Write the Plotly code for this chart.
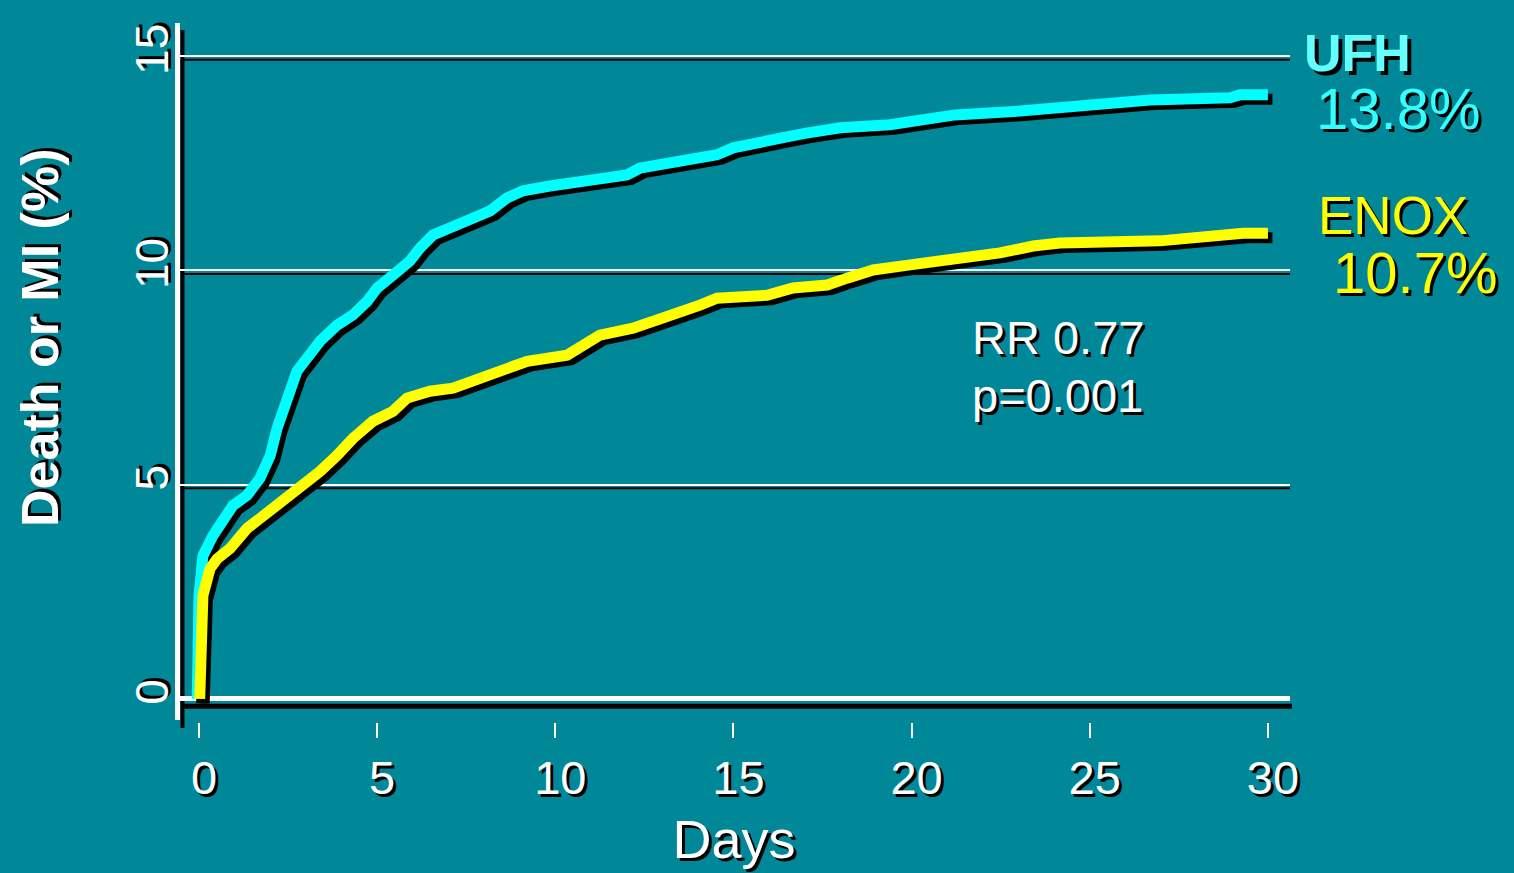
import plotly.graph_objects as go

# ---- data ----
ufh_days = [-0.05, 0.0, 0.11, 0.39, 0.95, 1.35, 1.71, 2.0, 2.19, 2.47, 2.75, 3.03, 3.4, 3.87,
            4.32, 4.72, 5.0, 5.44, 5.92, 6.2, 6.57, 7.52, 8.17, 8.64, 9.09, 9.85, 10.61, 11.25,
            12.01, 12.38, 13.13, 13.78, 14.54, 14.99, 15.55, 16.39, 17.0, 18.0, 19.39, 20.24,
            21.22, 23.04, 24.02, 25.29, 26.69, 28.94, 29.22, 30.0]
ufh_pct = [0.0, 2.4, 3.34, 3.81, 4.51, 4.75, 5.15, 5.68, 6.31, 7.09, 7.65, 7.95, 8.35, 8.72,
           8.96, 9.28, 9.59, 9.89, 10.22, 10.52, 10.83, 11.16, 11.39, 11.69, 11.86, 11.97, 12.04, 12.11,
           12.23, 12.39, 12.51, 12.63, 12.7, 12.86, 12.93, 13.1, 13.2, 13.33, 13.4, 13.5,
           13.63, 13.72, 13.8, 13.89, 13.98, 14.03, 14.1, 14.1]

enox_days = [0.02, 0.05, 0.11, 0.31, 0.51, 0.87, 1.35, 1.71, 2.08, 2.55, 3.03, 3.4, 3.87, 4.32,
             4.88, 5.44, 5.84, 6.48, 7.13, 7.97, 9.21, 10.33, 10.89, 11.25, 12.18, 13.13, 14.06,
             14.54, 15.94, 16.67, 17.63, 18.19, 18.92, 19.96, 21.08, 22.48, 23.41, 24.16, 26.97,
             28.1, 29.3, 30.0]
enox_pct = [0.0, 1.64, 2.41, 3.04, 3.27, 3.51, 3.98, 4.21, 4.44, 4.75, 5.07, 5.31, 5.68, 6.08,
            6.48, 6.71, 7.02, 7.18, 7.25, 7.48, 7.88, 8.02, 8.35, 8.49, 8.65, 8.89, 9.19,
            9.35, 9.42, 9.59, 9.66, 9.82, 10.01, 10.13, 10.24, 10.41, 10.57, 10.64, 10.69,
            10.8, 10.87, 10.87]

x_ticks = [0, 5, 10, 15, 20, 25, 30]
y_ticks = [0, 5, 10, 15]

series_names = ["UFH", "ENOX"]
final_labels = ["13.8%", "10.7%"]
stats_text = ["RR 0.77", "p=0.001"]
x_title = "Days"
y_title = "Death or MI (%)"

# ---- styling ----
BG = "rgb(0,136,153)"
CYAN = "#00FFFF"
YELLOW = "#FFFF00"
FONT = "Liberation Sans, Arial, sans-serif"
SHADOW = "3px 3px 0px black"

W, H = 1514, 873
L, R, T, B = 178, 224, 20, 151
XR = [-0.589, 30.62]
YR = [-0.54, 15.845]
plot_w = W - L - R
plot_h = H - T - B
dx = 4.5 * (XR[1] - XR[0]) / plot_w   # shadow offset in data units
dy = 4.5 * (YR[1] - YR[0]) / plot_h


def px_x(p):
    return (p - L) / plot_w


def px_y(p):
    return (H - B - p) / plot_h


fig = go.Figure()

for days, pct, col, name in [(ufh_days, ufh_pct, CYAN, series_names[0]),
                             (enox_days, enox_pct, YELLOW, series_names[1])]:
    fig.add_trace(go.Scatter(x=[d + dx for d in days], y=[v - dy for v in pct], mode="lines",
                             line=dict(color="black", width=11), hoverinfo="skip", showlegend=False))
    fig.add_trace(go.Scatter(x=days, y=pct, mode="lines", name=name,
                             line=dict(color=col, width=11), showlegend=False))

shapes = []
# gridline shadows
for yt in y_ticks[1:]:
    shapes.append(dict(type="line", xref="paper", yref="y", x0=px_x(183), x1=1.0,
                       y0=yt - 0.085, y1=yt - 0.085, line=dict(color="black", width=2), layer="below"))
# zero line shadow
shapes.append(dict(type="line", xref="paper", yref="y", x0=px_x(183), x1=px_x(1292),
                   y0=-0.17, y1=-0.17, line=dict(color="black", width=5), layer="below"))
# left axis: white line + black shadow
shapes.append(dict(type="line", xref="paper", yref="paper", x0=px_x(182.5), x1=px_x(182.5),
                   y0=px_y(728), y1=px_y(30), line=dict(color="black", width=4), layer="below"))
shapes.append(dict(type="line", xref="paper", yref="paper", x0=px_x(177.5), x1=px_x(177.5),
                   y0=px_y(720), y1=px_y(23), line=dict(color="white", width=5), layer="below"))

annotations = [
    dict(text="<b>" + series_names[0] + "</b>", x=px_x(1302), y=px_y(53), xanchor="left", yanchor="middle",
         font=dict(size=52, color="#66FFFF", family=FONT, shadow="4px 4px 0px black")),
    dict(text=final_labels[0], x=px_x(1314), y=px_y(108), xanchor="left", yanchor="middle",
         font=dict(size=58, color="#33FFFF", family=FONT, shadow=SHADOW)),
    dict(text=series_names[1], x=px_x(1316), y=px_y(215), xanchor="left", yanchor="middle",
         font=dict(size=53, color=YELLOW, family=FONT, shadow=SHADOW)),
    dict(text=final_labels[1], x=px_x(1331), y=px_y(272), xanchor="left", yanchor="middle",
         font=dict(size=58, color=YELLOW, family=FONT, shadow=SHADOW)),
    dict(text=stats_text[0], x=px_x(970), y=px_y(338), xanchor="left", yanchor="middle",
         font=dict(size=47, color="white", family=FONT, shadow=SHADOW)),
    dict(text=stats_text[1], x=px_x(970), y=px_y(395), xanchor="left", yanchor="middle",
         font=dict(size=47, color="white", family=FONT, shadow=SHADOW)),
    dict(text="<b>" + y_title + "</b>", x=px_x(40), y=px_y(338), xanchor="center", yanchor="middle",
         textangle=-90,
         font=dict(size=52, color="white", family=FONT, shadow=SHADOW)),
]
for a in annotations:
    a.update(xref="paper", yref="paper", showarrow=False)

fig.update_layout(
    width=W, height=H,
    margin=dict(l=L, r=R, t=T, b=B, pad=0),
    paper_bgcolor=BG, plot_bgcolor=BG,
    font=dict(family=FONT, color="white"),
    shapes=shapes, annotations=annotations,
    showlegend=False,
)

fig.update_xaxes(
    range=XR, tickvals=x_ticks, ticktext=[str(t) for t in x_ticks],
    showgrid=False, zeroline=False, showline=False,
    ticks="outside", ticklen=15, tickwidth=2, tickcolor="white",
    ticklabelstandoff=0, ticklabelshift=5,
    tickfont=dict(size=47, color="white", family=FONT, shadow=SHADOW),
    title=dict(text=x_title, font=dict(size=54, color="white", family=FONT, shadow=SHADOW), standoff=16),
)
fig.update_yaxes(
    range=YR, tickvals=y_ticks, ticktext=[str(t) for t in y_ticks], tickangle=-90,
    showgrid=True, gridcolor="white", gridwidth=2,
    zeroline=True, zerolinecolor="white", zerolinewidth=5,
    showline=False, ticks="",
    tickfont=dict(size=46, color="white", family=FONT, shadow=SHADOW),
)

fig.write_html(
    "out.html",
    config={"displayModeBar": False},
    post_script="document.body.style.margin='0';document.body.style.overflow='hidden';"
                "document.body.style.background='rgb(0,136,153)';",
)
